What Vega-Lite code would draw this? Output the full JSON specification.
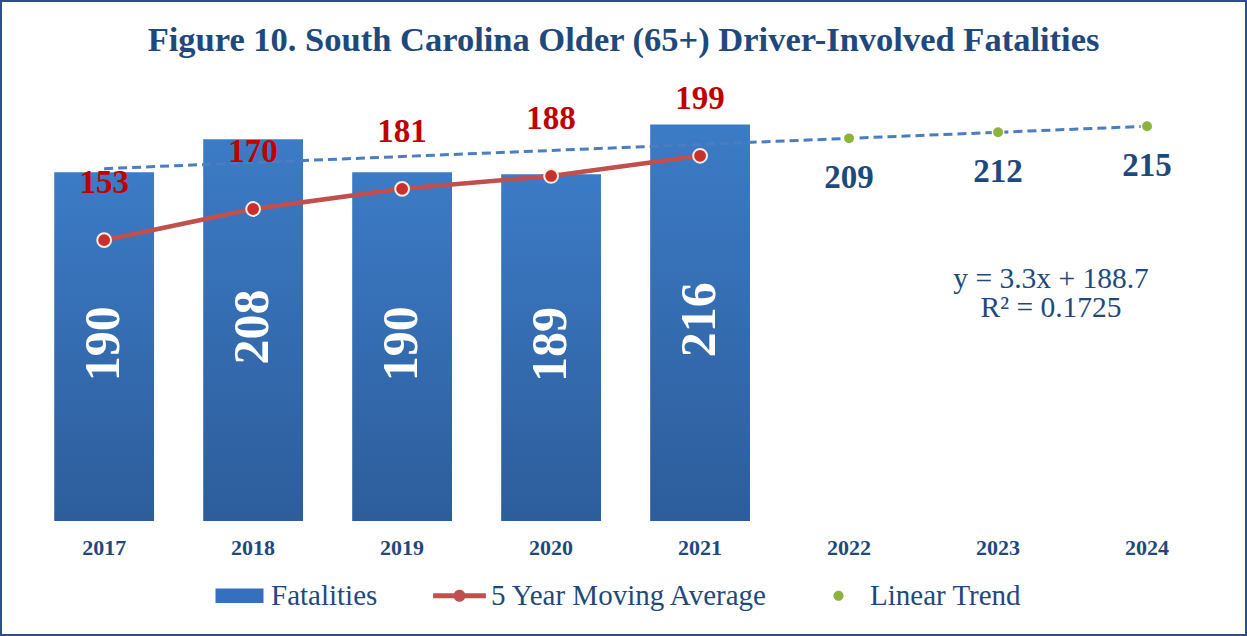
{
  "$schema": "https://vega.github.io/schema/vega-lite/v6.json",
  "width": 1247,
  "height": 636,
  "autosize": {"type": "none"},
  "padding": 0,
  "background": "white",
  "config": {
    "view": {"stroke": "#2B5089", "strokeWidth": 4},
    "font": "Liberation Serif",
    "style": {"guide-label": {"font": "Liberation Serif"}},
    "legend": {"layout": {"bottom": {"anchor": "middle"}}, "labelFont": "Liberation Serif", "labelFontSize": 29, "labelColor": "#1F497D"}
  },
  "title": {
    "text": "Figure 10. South Carolina Older (65+) Driver-Involved Fatalities",
    "font": "Liberation Serif",
    "fontSize": 34.5,
    "fontWeight": "bold",
    "color": "#1F497D",
    "anchor": "middle",
    "frame": "group",
    "baseline": "middle",
    "offset": -75
  },
  "data": {
    "values": [
      {"year": "2017", "fatalities": 190, "movingAvg": 153, "trend": 192.0},
      {"year": "2018", "fatalities": 208, "movingAvg": 170, "trend": 195.3},
      {"year": "2019", "fatalities": 190, "movingAvg": 181, "trend": 198.6},
      {"year": "2020", "fatalities": 189, "movingAvg": 188, "trend": 201.9},
      {"year": "2021", "fatalities": 216, "movingAvg": 199, "trend": 205.2},
      {"year": "2022", "fatalities": null, "movingAvg": null, "trend": 208.5},
      {"year": "2023", "fatalities": null, "movingAvg": null, "trend": 211.8},
      {"year": "2024", "fatalities": null, "movingAvg": null, "trend": 215.1}
    ]
  },
  "layer": [
    {
      "layer": [
        {
          "data": {"values": [{"series": "Fatalities"}, {"series": "5 Year Moving Average"}, {"series": "Linear Trend"}]},
          "mark": {"type": "point", "filled": true, "size": 300, "opacity": 1},
          "encoding": {
            "x": {"datum": "2017", "type": "nominal"},
            "y": {"datum": 100, "type": "quantitative", "scale": {"domain": [-62.7, 283.9], "nice": false, "zero": false}, "axis": null},
            "color": {
              "field": "series", "type": "nominal",
              "scale": {"domain": ["Fatalities", "5 Year Moving Average", "Linear Trend"], "range": ["#3470BE", "#C0504D", "#8DB33A"]},
              "legend": {
                "title": null, "orient": "bottom", "direction": "horizontal", "offset": -55,
                "labelFont": "Liberation Serif", "labelFontSize": 29, "labelColor": "#1F497D",
                "symbolSize": 576, "labelOffset": 17, "columnPadding": 55, "symbolStrokeWidth": 0, "labelLimit": 0, "symbolOpacity": 1
              }
            },
            "shape": {
              "field": "series", "type": "nominal",
              "scale": {
                "domain": ["Fatalities", "5 Year Moving Average", "Linear Trend"],
                "range": [
                  "M-2,-0.6H2V0.6H-2Z",
                  "M-2.2,-0.2H2.2V0.2H-2.2Z M-0.5,0A0.5,0.5 0 1,1 0.5,0A0.5,0.5 0 1,1 -0.5,0Z",
                  "M-0.42,0A0.42,0.42 0 1,1 0.42,0A0.42,0.42 0 1,1 -0.42,0Z"
                ]
              },
              "legend": {
                "title": null, "orient": "bottom", "direction": "horizontal", "offset": -55,
                "labelFont": "Liberation Serif", "labelFontSize": 29, "labelColor": "#1F497D",
                "symbolSize": 576, "labelOffset": 17, "columnPadding": 55, "symbolStrokeWidth": 0, "labelLimit": 0, "symbolOpacity": 1
              }
            }
          }
        },
        {
          "transform": [{"filter": "datum.fatalities != null"}],
          "mark": {
            "type": "bar",
            "fill": {"gradient": "linear", "x1": 0, "y1": 0, "x2": 0, "y2": 1,
              "stops": [{"offset": 0, "color": "#3C7BC6"}, {"offset": 1, "color": "#2D5D9B"}]}
          },
          "encoding": {
            "x": {
              "field": "year", "type": "nominal",
              "scale": {"domain": ["2017", "2018", "2019", "2020", "2021", "2022", "2023", "2024"], "paddingInner": 0.33, "paddingOuter": 0.35, "align": 0.52},
              "axis": {
                "title": null, "orient": "bottom", "offset": -89, "domain": false, "ticks": false, "tickSize": 0,
                "labelPadding": 0, "labelBaseline": "middle", "labelAlign": "center", "labelAngle": 0, "grid": false,
                "labelFont": "Liberation Serif", "labelFontSize": 22, "labelFontWeight": "bold", "labelColor": "#1F497D"
              }
            },
            "y": {"field": "fatalities", "type": "quantitative", "scale": {"domain": [-62.7, 283.9], "nice": false, "zero": false}, "axis": null},
            "y2": {"datum": 0}
          }
        },
        {
          "mark": {"type": "line", "stroke": "#4A7EC0", "strokeWidth": 3, "strokeDash": [9, 5]},
          "encoding": {
            "x": {"field": "year", "type": "nominal"},
            "y": {"field": "trend", "type": "quantitative", "scale": {"domain": [-62.7, 283.9], "nice": false, "zero": false}, "axis": null}
          }
        },
        {
          "transform": [{"filter": "datum.movingAvg != null"}],
          "mark": {"type": "line", "stroke": "#C0504D", "strokeWidth": 4.5},
          "encoding": {
            "x": {"field": "year", "type": "nominal"},
            "y": {"field": "movingAvg", "type": "quantitative", "scale": {"domain": [-62.7, 283.9], "nice": false, "zero": false}, "axis": null}
          }
        },
        {
          "transform": [{"filter": "datum.movingAvg != null"}],
          "mark": {"type": "point", "filled": true, "fill": "#C8302C", "stroke": "#F5EDE3", "strokeWidth": 2, "size": 190, "opacity": 1},
          "encoding": {
            "x": {"field": "year", "type": "nominal"},
            "y": {"field": "movingAvg", "type": "quantitative", "scale": {"domain": [-62.7, 283.9], "nice": false, "zero": false}, "axis": null}
          }
        },
        {
          "transform": [{"filter": "datum.fatalities == null"}],
          "mark": {"type": "point", "filled": true, "fill": "#8DB33A", "stroke": "#FFFFFF", "strokeWidth": 1.5, "size": 130, "opacity": 1},
          "encoding": {
            "x": {"field": "year", "type": "nominal"},
            "y": {"field": "trend", "type": "quantitative", "scale": {"domain": [-62.7, 283.9], "nice": false, "zero": false}, "axis": null}
          }
        },
        {
          "transform": [{"filter": "datum.movingAvg != null"}],
          "mark": {"type": "text", "font": "Liberation Serif", "fontSize": 33, "fontWeight": "bold", "fill": "#C00000", "dy": -57, "baseline": "middle"},
          "encoding": {
            "x": {"field": "year", "type": "nominal"},
            "y": {"field": "movingAvg", "type": "quantitative", "scale": {"domain": [-62.7, 283.9], "nice": false, "zero": false}, "axis": null},
            "text": {"field": "movingAvg", "type": "quantitative"}
          }
        },
        {
          "transform": [{"filter": "datum.fatalities == null"}],
          "mark": {"type": "text", "font": "Liberation Serif", "fontSize": 33, "fontWeight": "bold", "fill": "#1F497D", "dy": 40, "baseline": "middle"},
          "encoding": {
            "x": {"field": "year", "type": "nominal"},
            "y": {"field": "trend", "type": "quantitative", "scale": {"domain": [-62.7, 283.9], "nice": false, "zero": false}, "axis": null},
            "text": {"field": "trend", "type": "quantitative", "format": ".0f"}
          }
        },
        {
          "data": {"values": [{"note": "trend equation"}]},
          "mark": {"type": "text", "text": ["y = 3.3x + 188.7", "R² = 0.1725"], "font": "Liberation Serif", "fontSize": 29.5, "fill": "#1F497D", "lineHeight": 29, "dx": 53, "baseline": "middle", "align": "center"},
          "encoding": {
            "x": {"datum": "2023", "type": "nominal"},
            "y": {"datum": 132, "type": "quantitative", "scale": {"domain": [-62.7, 283.9], "nice": false, "zero": false}, "axis": null}
          }
        }
      ]
    },
    {
      "transform": [{"filter": "datum.fatalities != null"}],
      "mark": {"type": "text", "angle": 270, "font": "Liberation Serif", "fontSize": 50, "fontWeight": "bold", "fill": "white", "baseline": "middle", "align": "center", "dx": 3},
      "encoding": {
        "x": {"field": "year", "type": "nominal"},
        "y": {"field": "fatalities", "type": "quantitative", "scale": {"domain": [-125.4, 567.8], "nice": false, "zero": false}, "axis": null},
        "text": {"field": "fatalities", "type": "quantitative"}
      }
    }
  ],
  "resolve": {"scale": {"y": "independent"}}
}
